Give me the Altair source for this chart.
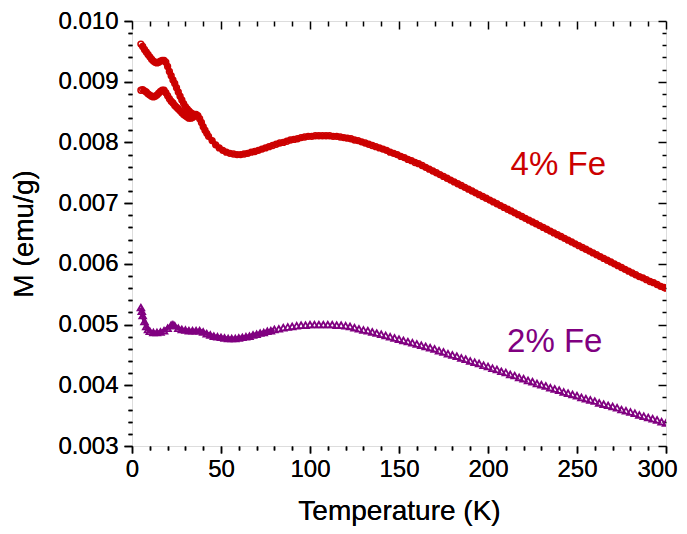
import altair as alt
import pandas as pd

# ---------------- data ----------------
# 4% Fe, lower (FC) branch
t4_low = (list(range(5, 44)) + list(range(45, 300, 2)) + [300])
m4_low = [
    0.00886, 0.00887, 0.00885, 0.00883, 0.00880, 0.00878, 0.00876, 0.00875, 0.00876, 0.00878,
    0.00881, 0.00884, 0.00886, 0.00886, 0.00882, 0.00877, 0.00872, 0.00868, 0.00865, 0.00861,
    0.00858, 0.00855, 0.00852, 0.00849, 0.00846, 0.00844, 0.00842, 0.00840, 0.00840, 0.00841,
    0.00843, 0.00845, 0.00844, 0.00839, 0.00833, 0.00826, 0.00820, 0.00815, 0.00810,
    # 45 .. 131 step 2
    0.00803, 0.00796, 0.00791, 0.00787, 0.00784, 0.00782, 0.00781, 0.00780, 0.00780, 0.00781,
    0.00782, 0.00784, 0.00785, 0.00787, 0.00789, 0.00791, 0.00793, 0.00795, 0.00797, 0.00799,
    0.00800, 0.00802, 0.00804, 0.00805, 0.00806, 0.00808, 0.00809, 0.00810, 0.00810, 0.00811,
    0.00811, 0.00811, 0.00811, 0.00811, 0.00810, 0.00810, 0.00809, 0.00808, 0.00807, 0.00806,
    0.00804, 0.00803, 0.00801, 0.00799,
    # 133 .. 299 step 2
    0.00797, 0.00795, 0.00793, 0.00791, 0.00789, 0.00787, 0.00784, 0.00782, 0.00780, 0.00777,
    0.00775, 0.00772, 0.00770, 0.00767, 0.00765, 0.00762, 0.00759, 0.00756, 0.00753, 0.00750,
    0.00747, 0.00744, 0.00741, 0.00738, 0.00735, 0.00732, 0.00729, 0.00726, 0.00723, 0.00720,
    0.00717, 0.00714, 0.00711, 0.00708, 0.00705, 0.00702, 0.00699, 0.00696, 0.00693, 0.00690,
    0.00687, 0.00684, 0.00681, 0.00678, 0.00675, 0.00672, 0.00669, 0.00666, 0.00663, 0.00660,
    0.00657, 0.00654, 0.00651, 0.00648, 0.00645, 0.00642, 0.00639, 0.00636, 0.00633, 0.00630,
    0.00627, 0.00624, 0.00621, 0.00618, 0.00615, 0.00612, 0.00609, 0.00606, 0.00603, 0.00600,
    0.00597, 0.00594, 0.00591, 0.00588, 0.00585, 0.00582, 0.00579, 0.00577, 0.00574, 0.00571,
    0.00569, 0.00566, 0.00563, 0.00561,
    # 300
    0.00560,
]

# 4% Fe, upper (ZFC) branch at low temperature
t4_up = list(range(5, 37))
m4_up = [
    0.00962, 0.00958, 0.00953, 0.00949, 0.00945, 0.00941, 0.00937, 0.00934, 0.00932, 0.00931,
    0.00932, 0.00934, 0.00935, 0.00935, 0.00932, 0.00925, 0.00917, 0.00910, 0.00903, 0.00897,
    0.00890, 0.00883, 0.00876, 0.00870, 0.00864, 0.00859, 0.00855, 0.00852, 0.00849, 0.00847,
    0.00846, 0.00846,
]

# 2% Fe
t2 = ([5, 5.5, 6, 7, 8, 9, 10, 12, 14, 16, 18, 20, 22, 23, 24]
      + list(range(26, 81, 2))
      + [82.5 + 2.5 * i for i in range(88)])
m2 = [
    0.00528, 0.00522, 0.00515, 0.00505, 0.00497, 0.00492, 0.00489, 0.00487, 0.00487, 0.00488,
    0.00490, 0.00494, 0.00499, 0.00500, 0.00498,
    # 26 .. 80 step 2
    0.00494, 0.00492, 0.00491, 0.00490, 0.00490, 0.00490, 0.00490, 0.00488, 0.00485, 0.00483,
    0.00481, 0.00480, 0.00479, 0.00478, 0.00477, 0.00477, 0.00477, 0.00478, 0.00479, 0.00480,
    0.00481, 0.00483, 0.00484, 0.00486, 0.00487, 0.00489, 0.00490, 0.00492,
    # 82.5 .. 300 step 2.5
    0.00493, 0.00495, 0.00496, 0.00497, 0.00498, 0.00499, 0.00499, 0.00500, 0.00500, 0.00500,
    0.00500, 0.00500, 0.00500, 0.00499, 0.00499, 0.00498, 0.00497, 0.00495, 0.00493, 0.00491,
    0.00490, 0.00488, 0.00486, 0.00484, 0.00482, 0.00480, 0.00478, 0.00476, 0.00474, 0.00472,
    0.00470, 0.00468, 0.00466, 0.00464, 0.00462, 0.00460, 0.00457, 0.00455, 0.00452, 0.00450,
    0.00448, 0.00445, 0.00443, 0.00440, 0.00438, 0.00436, 0.00433, 0.00431, 0.00428, 0.00426,
    0.00423, 0.00421, 0.00418, 0.00416, 0.00413, 0.00411, 0.00408, 0.00406, 0.00403, 0.00401,
    0.00399, 0.00396, 0.00394, 0.00392, 0.00389, 0.00387, 0.00385, 0.00383, 0.00380, 0.00378,
    0.00376, 0.00374, 0.00371, 0.00369, 0.00367, 0.00365, 0.00363, 0.00360, 0.00358, 0.00356,
    0.00354, 0.00351, 0.00349, 0.00347, 0.00345, 0.00343, 0.00340, 0.00338,
]

assert len(t4_low) == len(m4_low), (len(t4_low), len(m4_low))
assert len(t4_up) == len(m4_up)
assert len(t2) == len(m2), (len(t2), len(m2))

# in-plot labels
label_text = ["4% Fe", "2% Fe"]
label_t = [239.5, 237.5]
label_m = [0.00763, 0.00471]
label_color = ["#cc0000", "#800080"]

# tick values
x_ticks = list(range(0, 301, 10))
y_ticks = [round(0.003 + 0.0002 * i, 4) for i in range(36)]

# ---------------- chart ----------------
FONT = "Liberation Sans"
RED = "#cc0000"
PURPLE = "#800080"

df4 = pd.DataFrame({
    "T": t4_low + t4_up,
    "M": m4_low + m4_up,
    "branch": ["low"] * len(t4_low) + ["up"] * len(t4_up),
})
df2 = pd.DataFrame({"T": t2, "M": m2})
dlab = pd.DataFrame({"text": label_text, "T": label_t, "M": label_m, "color": label_color})

xscale = alt.Scale(domain=[0, 300], nice=False, zero=False)
yscale = alt.Scale(domain=[0.003, 0.010], nice=False, zero=False)

x_major = "datum.value % 50 === 0"
y_major = "abs(datum.value * 1000 - round(datum.value * 1000)) < 0.001"

common = dict(domain=False, grid=False, tickColor="black", tickWidth=1.5,
              labelOverlap=False, labelFlush=False, labelBound=False,
              labelFont=FONT, labelFontSize=24, labelColor="black",
              titleFont=FONT, titleFontSize=28, titleFontWeight="normal",
              titleColor="black")

ax_bottom = alt.Axis(values=x_ticks, format="d", orient="bottom",
                     tickSize=alt.ExprRef(expr=f"{x_major} ? 7 : 4"),
                     labelExpr=f"{x_major} ? datum.label : ''",
                     labelOffset=alt.ExprRef(expr="datum.value === 300 ? -9 : 0"),
                     labelPadding=4, titlePadding=16,
                     title="Temperature (K)", **common)
ax_left = alt.Axis(values=y_ticks, format=".3f", orient="left",
                   tickSize=alt.ExprRef(expr=f"{y_major} ? 8 : 4"),
                   labelExpr=f"{y_major} ? datum.label : ''",
                   labelPadding=6, titlePadding=19,
                   title="M (emu/g)", **common)
ax_top = alt.Axis(values=x_ticks, orient="top", labels=False, title=None,
                  tickSize=alt.ExprRef(expr=f"{x_major} ? -8 : -5"), **common)
ax_right = alt.Axis(values=y_ticks, orient="right", labels=False, title=None,
                    tickSize=alt.ExprRef(expr=f"{y_major} ? -8 : -4"), **common)

enc_x = alt.X("T:Q", scale=xscale, axis=ax_bottom)
enc_y = alt.Y("M:Q", scale=yscale, axis=ax_left)

band4 = alt.Chart(df4).mark_line(
    color=RED, strokeWidth=5, clip=True
).encode(
    x=enc_x, y=enc_y, detail="branch:N", order="T:Q"
)

pts4 = alt.Chart(df4).mark_point(
    shape="circle", filled=False, size=34, strokeWidth=1.5, color=RED, opacity=1, clip=True
).encode(x=enc_x, y=enc_y)

band2 = alt.Chart(df2).transform_filter("datum.T <= 80").mark_line(
    color=PURPLE, strokeWidth=4, clip=True
).encode(
    x=alt.X("T:Q", scale=xscale, axis=ax_top),
    y=alt.Y("M:Q", scale=yscale, axis=ax_right),
    order="T:Q",
)

pts2 = alt.Chart(df2).mark_point(
    shape="triangle-up", filled=False, size=44, strokeWidth=1.8, color=PURPLE, opacity=1, clip=True
).encode(
    x=alt.X("T:Q", scale=xscale, axis=None),
    y=alt.Y("M:Q", scale=yscale, axis=None),
)

labels = alt.Chart(dlab).mark_text(
    font=FONT, fontSize=33, align="center", baseline="middle"
).encode(
    x=alt.X("T:Q", scale=xscale, axis=None),
    y=alt.Y("M:Q", scale=yscale, axis=None),
    text="text:N",
    color=alt.Color("color:N", scale=None),
)

chart = alt.layer(band4, pts4, band2, pts2, labels).resolve_axis(
    x="independent", y="independent"
).properties(
    width=534, height=425,
    autosize=alt.AutoSizeParams(type="none"),
    padding={"left": 124, "top": 13, "right": 13, "bottom": 80},
).configure_view(
    stroke="black", strokeWidth=2
).configure(background="white")

chart.save("out.html", embed_options={"renderer": "svg", "actions": False})
